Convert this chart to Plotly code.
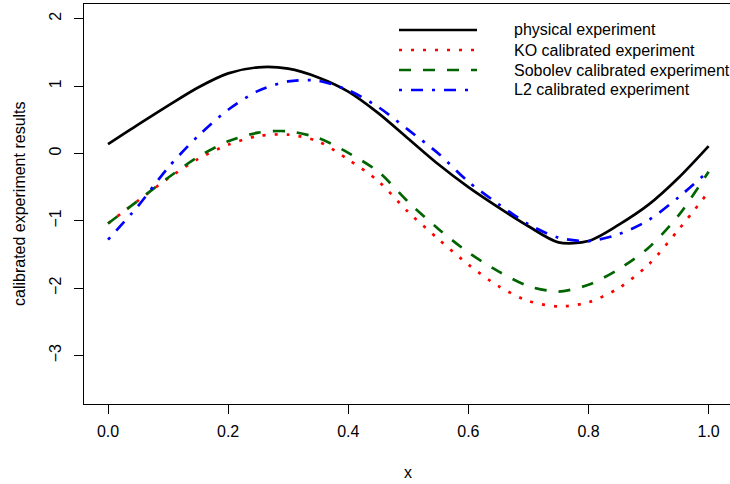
import plotly.graph_objects as go

# ---- data ----
x_vals = [0.00, 0.05, 0.10, 0.15, 0.20, 0.25, 0.30, 0.35, 0.40, 0.45, 0.50,
          0.55, 0.60, 0.65, 0.70, 0.75, 0.80, 0.85, 0.90, 0.95, 1.00]

physical = [0.14, 0.43, 0.71, 0.98, 1.19, 1.28, 1.26, 1.13, 0.92, 0.60, 0.22,
            -0.16, -0.50, -0.80, -1.08, -1.32, -1.30, -1.06, -0.76, -0.36, 0.11]
ko = [-1.04, -0.70, -0.37, -0.08, 0.13, 0.26, 0.28, 0.18, -0.09, -0.41, -0.87,
      -1.27, -1.65, -1.97, -2.19, -2.27, -2.21, -2.00, -1.65, -1.13, -0.57]
sobolev = [-1.04, -0.70, -0.36, -0.05, 0.18, 0.31, 0.33, 0.23, 0.01, -0.27, -0.72,
           -1.12, -1.47, -1.75, -1.97, -2.05, -1.95, -1.72, -1.40, -0.92, -0.27]
l2 = [-1.28, -0.78, -0.21, 0.26, 0.65, 0.93, 1.07, 1.08, 0.94, 0.69, 0.35,
      0.00, -0.42, -0.75, -1.05, -1.25, -1.30, -1.20, -0.99, -0.65, -0.26]

series_names = ["physical experiment", "KO calibrated experiment",
                "Sobolev calibrated experiment", "L2 calibrated experiment"]

x_tick_vals = [0.0, 0.2, 0.4, 0.6, 0.8, 1.0]
x_tick_text = ["0.0", "0.2", "0.4", "0.6", "0.8", "1.0"]
y_tick_vals = [-3, -2, -1, 0, 1, 2]
y_tick_text = ["\u22123", "\u22122", "\u22121", "0", "1", "2"]

# ---- styles ----
series_y = [physical, ko, sobolev, l2]
colors = ["#000000", "#FF0000", "#006400", "#0000FF"]
dashes = ["solid", "3px,9px", "12px,12px", "3px,9px,12px,9px"]
LW = 2.7
FONT = "Liberation Sans, Arial, Helvetica, sans-serif"

W, H = 730, 484
ML, MR, MT, MB = 84, 0, 4, 80
PW, PH = W - ML - MR, H - MT - MB


def px_x(px):
    return (px - ML) / PW


def px_y(py):
    return (H - MB - py) / PH


fig = go.Figure()
for name, yv, c, d in zip(series_names, series_y, colors, dashes):
    fig.add_trace(go.Scatter(x=x_vals, y=yv, mode="lines", name=name,
                             line=dict(color=c, width=LW, dash=d, shape="spline", smoothing=0.8),
                             showlegend=False))

# manual legend (R-style, no box)
shapes = []
annotations = []
row_y = [30, 50, 70, 90]
for name, c, d, ry in zip(series_names, colors, dashes, row_y):
    shapes.append(dict(type="line", xref="paper", yref="paper",
                       x0=px_x(399), x1=px_x(477), y0=px_y(ry), y1=px_y(ry),
                       line=dict(color=c, width=LW, dash=d)))
    annotations.append(dict(xref="paper", yref="paper", x=px_x(512), y=px_y(ry),
                            text=name, showarrow=False, xanchor="left", yanchor="middle",
                            font=dict(family=FONT, size=16, color="black")))

# axis titles
annotations.append(dict(xref="paper", yref="paper", x=px_x(408), y=px_y(472), text="x",
                        showarrow=False, xanchor="center", yanchor="middle",
                        font=dict(family=FONT, size=16, color="black")))
annotations.append(dict(xref="paper", yref="paper", x=px_x(19), y=px_y(204),
                        text="calibrated experiment results", textangle=-90,
                        showarrow=False, xanchor="center", yanchor="middle",
                        font=dict(family=FONT, size=16, color="black")))

x_range = [-0.04, -0.04 + PW / 600.6]
fig.update_layout(
    width=W, height=H,
    margin=dict(l=ML, r=MR, t=MT, b=MB, pad=0),
    plot_bgcolor="white", paper_bgcolor="white",
    font=dict(family=FONT, size=16, color="black"),
    shapes=shapes, annotations=annotations,
    xaxis=dict(range=x_range, tickmode="array", tickvals=x_tick_vals, ticktext=x_tick_text,
               showgrid=False, zeroline=False, showline=True, linecolor="black", linewidth=1,
               mirror=True, ticks="outside", ticklen=9, tickcolor="black", tickwidth=1,
               ticklabelstandoff=4,
               tickfont=dict(family=FONT, size=16, color="black")),
    yaxis=dict(range=[-3.72, 2.22], tickmode="array", tickvals=y_tick_vals, ticktext=y_tick_text,
               showgrid=False, zeroline=False, showline=True, linecolor="black", linewidth=1,
               mirror=False, ticks="outside", ticklen=9, tickcolor="black", tickwidth=1,
               ticklabelstandoff=7,
               tickangle=-90, tickfont=dict(family=FONT, size=16, color="black")),
)

fig.write_html("out.html", config={"displayModeBar": False},
               post_script="document.body.style.margin='0';document.body.style.padding='0';")
